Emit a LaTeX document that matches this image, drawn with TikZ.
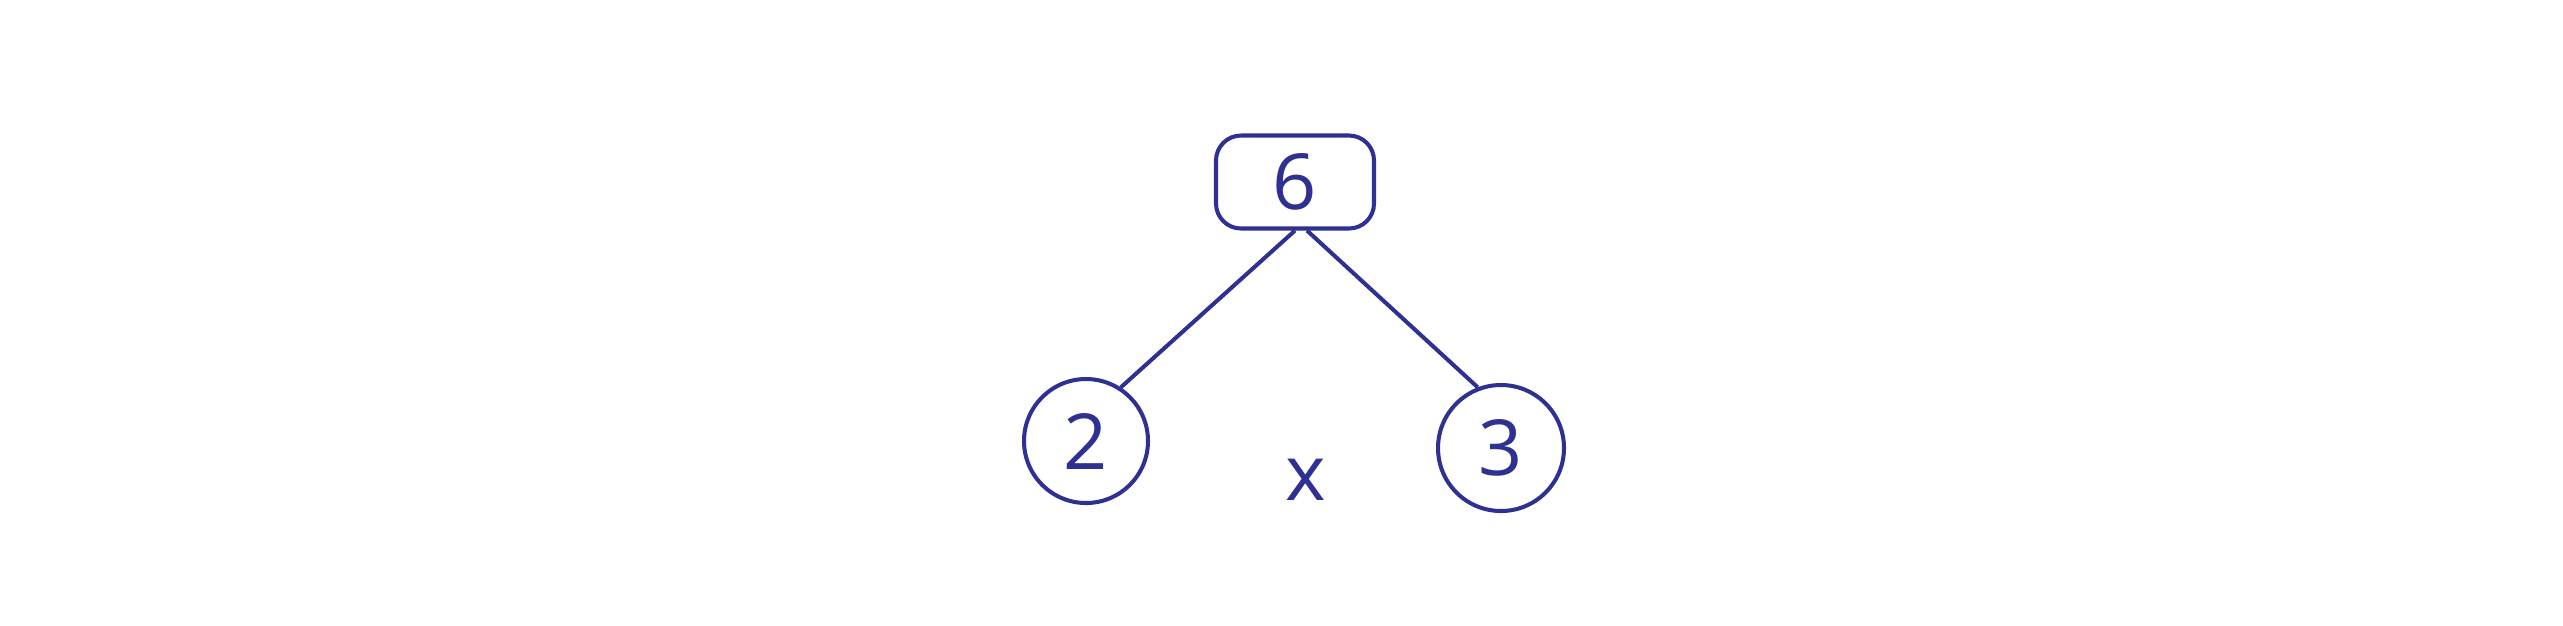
\documentclass[tikz,border=0pt]{standalone}
\usepackage{fontspec}
\setmainfont{Open Sans}
\usepackage{tikz}
\usetikzlibrary{positioning}
\definecolor{myblue}{RGB}{46,49,146}

\begin{document}
\begin{tikzpicture}[node distance=2cm, on grid, line width=1.15pt, myblue,
    every node/.style={font=\fontsize{22}{26}\selectfont, text=myblue},
    leaf/.style={circle, draw, minimum size=1.24cm, inner sep=0pt},
    root/.style={rectangle, rounded corners=0.25cm, draw, minimum width=1.58cm, minimum height=0.93cm}]
    \useasboundingbox (0,0) rectangle (25.63,-6.25);
    \node[root] (A) at (12.95,-1.82) {6};
    \node[leaf] (B) [below left=2.59cm and 2.09cm of A] {2};
    \node[leaf, minimum size=1.26cm] (C) [below right=2.66cm and 2.06cm of A] {3};
    \node (X) [below right=2.98cm and 0.11cm of A] {x};

    \path (A.south) edge (B.57)
          ([xshift=0.12cm]A.south) edge (C.111);
\end{tikzpicture}
\end{document}
